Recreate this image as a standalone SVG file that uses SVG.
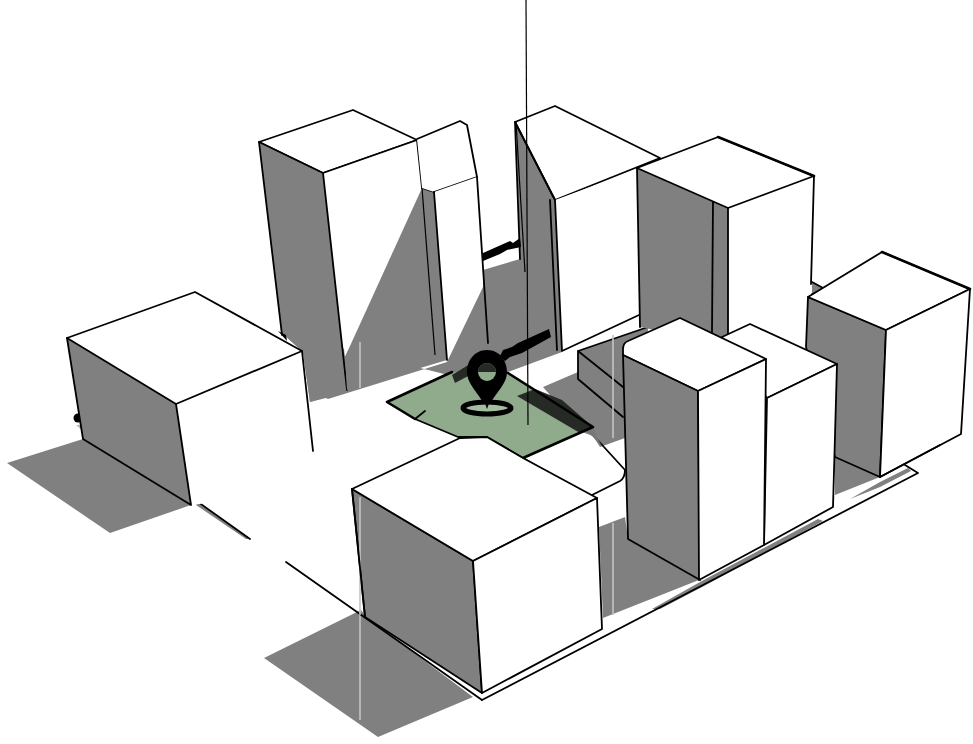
<svg xmlns="http://www.w3.org/2000/svg" width="973" height="744" viewBox="0 0 973 744">
<style>
.g{fill:#808080;stroke:none}
.gs{fill:#808080;stroke:#000;stroke-width:1.8;stroke-linejoin:round}
.w{fill:#fff;stroke:#000;stroke-width:1.8;stroke-linejoin:round}
.wn{fill:#fff;stroke:none}
.l{fill:none;stroke:#000;stroke-width:1.8;stroke-linejoin:round;stroke-linecap:round}
.k{fill:none;stroke:#000;stroke-width:2.6;stroke-linejoin:round;stroke-linecap:round}
.t{fill:none;stroke:#000;stroke-width:1.2}
.h{fill:none;stroke:#c4c4c4;stroke-width:1.6}
.dark{fill:#252a25}
</style>
<rect width="973" height="744" fill="#fff"/>
<g id="ground-shadows">
<polygon class="g" points="83,439 7,463 110,533 191,505"/>
<polygon class="g" points="282,333 303,352 310,402 326,398 328,399 447,362 483,287 483,270 520,259 516,122 555,200 562,352 508,372 452,376"/>
<polygon class="g" points="543,387 578,372 578,351 648,327 640,420 625,438 600,447 593,436 582,432"/>
<polygon class="g" points="599,527 625,517 628,539 699,580 603,618"/>
<polygon class="g" points="835,457 880,477 835,495"/>
<polygon class="g" points="361,610 264,658 378,737 473,697 366,617"/>
<polygon class="g" points="652,609 700,582 818,519 823,521 704,586 660,609"/>
<polygon class="g" points="850,499 880,482 908,468 911,471 880,487"/>
<polygon class="g" points="198,503 250,539 246,539 196,505"/>
<path class="h" d="M613 523V615M360 610V720"/>
<polygon class="g" points="812,282 825,289 812,293"/>
<path class="l" d="M812 282 825 289 812 294"/>
<circle cx="78" cy="418" r="4.5" fill="#000"/>
<polygon points="76,425 84,425 84,432" fill="#bbb"/>
</g>
<g id="block-b">
<polygon class="w" points="259,142 353,110 417,140 323,173"/>
<polygon class="g" points="259,142 323,173 347,390 310,402 303,352 282,333"/>
<polygon class="wn" points="323,173 417,140 422,188 345,357"/>
<path class="l" d="M259 142 282 335M259 142 323 173 417 140M323 173 347 390M417 140 422 188"/>
<polygon class="g" points="422,188 434,192 447,360 347,390 345,357"/>
<path class="h" d="M360 342V388"/>
<path class="l" d="M422 188 434 192"/>
<path class="t" d="M422 188 435 355"/>
<polygon points="278,331 286,335 287,341" fill="#000"/>
</g>
<g id="block-c">
<polygon class="wn" points="417,139 460,121 467,125 477,177 434,192 422,188"/>
<path class="l" d="M417 139 460 121 467 125 477 177 434 192"/>
<polygon class="wn" points="434,192 477,177 483,283 448,358"/>
<path class="l" d="M434 192 447 360M477 177 488 343"/>
</g>
<g id="block-d">
<polygon class="w" points="515,122 555,106 660,158 555,200"/>
<polygon class="wn" points="555,200 636,170 639,315 562,351"/>
<path class="l" d="M515 122 555 200 562 351 639 315M515 122 520 259M550 200 557 350"/>
<path class="t" d="M516 122 525 272"/>
</g>
<g id="bars">
<path d="M483 253 510 241 513 243 520 238 521 247 507 250 500 254 483 261Z" fill="#000"/>
<path d="M500 356 503 350 512 347 518 343 549 329 551 337 522 353 510 357 505 361Z" fill="#000"/>
</g>
<g id="low-block">
<polygon class="g" points="578,351 648,328 640,380 623,386"/>
<polygon class="g" points="578,351 623,386 623,416 578,378"/>
<path class="l" d="M578 351 623 387M578 351V379L623 417M578 351 648 327"/>
<path class="h" d="M613 335V438"/>
</g>
<g id="block-e">
<polygon class="g" points="637,168 728,208 728,345 640,327"/>
<polygon class="wn" points="728,208 814,176 811,284 806,350 728,340"/>
<polygon class="w" points="637,168 718,137 814,176 728,208"/>
<path class="l" d="M814 176 811 284M728 208V335M713 202 712 332M637 168 640 327"/>
<path class="k" d="M718 137 814 176"/>
</g>
<g id="block-h">
<polygon class="gs" points="808,297 886,330 880,477 835,457 806,347"/>
<polygon class="w" points="808,297 882,252 970,289 886,330"/>
<polygon class="w" points="886,330 970,289 961,434 880,477"/>
<path class="k" d="M882 252 970 289"/>
</g>
<g id="block-g2">
<polygon class="w" points="722,337 750,324 837,364 767,398"/>
<polygon class="w" points="767,398 837,364 833,507 764,545"/>
</g>
<g id="block-g1">
<path class="w" d="M623 355V349Q623 343 628 341L680 318 766 359 698 391Z"/>
<polygon class="gs" points="623,355 698,391 700,580 628,539"/>
<polygon class="w" points="698,391 766,359 764,545 699,580"/>
</g>
<g id="ground-lines">
<path class="l" d="M482 700 918 473 905 465M593 435 625 470Q625 478 620 481L592 495M940 445 880 477"/>
<path class="l" d="M198 502 250 539M286 562 482 700"/>
</g>
<g id="plaza">
<polygon points="387,402 452,372 508,373 593,427 523,458 487,437 458,437 415,419" fill="#8fab8b"/>
<polygon class="dark" points="517,396 535,389 562,400 593,427 580,433"/>
<polygon class="dark" points="452,375 455,383 470,375 470,364"/>
<polygon points="585,430 593,427 597,437 602,446 592,436" fill="#777"/>
<path class="k" d="M387 402 452 372M415 419 387 402M508 373 593 427 523 458"/>
<path class="l" d="M523 458 487 437H458L415 419 425 411M523 458 595 500"/>
<path d="M526 0 528 425" class="t"/>
</g>
<g id="pin">
<path d="M487 350C474 350 467 361 467 372C467 384 478 392 487 409C496 392 507 384 507 372C507 361 500 350 487 350Z" fill="#000"/>
<circle cx="487" cy="372" r="9" fill="#8fab8b"/>
<path d="M478 372A9 9 0 0 1 496 372Z" fill="#252a25"/>
<ellipse cx="487" cy="408" rx="24" ry="6" fill="#a4bda0" stroke="#000" stroke-width="5"/>
<path d="M483 398H491L487 409Z" fill="#000"/>
</g>
<g id="block-a">
<polygon class="g" points="67,338 176,404 191,505 83,439"/>
<polygon class="wn" points="176,404 302,351 315,490 191,505"/>
<polygon class="w" points="67,338 195,292 302,351 176,404"/>
<path class="l" d="M67 338 83 439 191 505 176 404M302 351 313 451"/>
</g>
<g id="block-f">
<polygon class="gs" points="352,489 473,561 482,693 365,617"/>
<polygon class="w" points="352,489 460,438 487,437 523,458 597,498 473,561"/>
<polygon class="w" points="473,561 597,498 602,629 482,693"/>
<path class="h" d="M360 497V615"/>
<path class="l" d="M352 489 365 617"/>
</g>
</svg>
